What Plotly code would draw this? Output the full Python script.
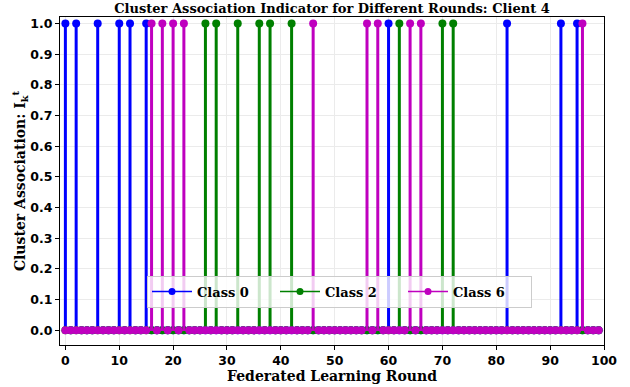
import plotly.graph_objects as go

rounds = list(range(100))
class0_rounds = [0, 2, 6, 10, 12, 15, 60, 82, 92, 95]
class2_rounds = [26, 28, 32, 36, 38, 42, 62, 70, 72]
class6_rounds = [16, 18, 20, 22, 46, 56, 58, 64, 66, 96]

series = [
    ("Class 0", class0_rounds, "#0000ff"),
    ("Class 2", class2_rounds, "#008000"),
    ("Class 6", class6_rounds, "#bf00bf"),
]

SERIF = "DejaVu Serif"
SANS = "DejaVu Sans"

fig = go.Figure()
for name, active, color in series:
    vals = [1 if r in active else 0 for r in rounds]
    sx, sy = [], []
    for r, v in zip(rounds, vals):
        if v:
            sx += [r, r, None]
            sy += [0, v, None]
    fig.add_trace(go.Scatter(x=[rounds[0], rounds[-1]], y=[0, 0], mode="lines",
                             line=dict(color=color, width=1.5), showlegend=False,
                             legendgroup=name, hoverinfo="skip"))
    fig.add_trace(go.Scatter(x=sx, y=sy, mode="lines", line=dict(color=color, width=3),
                             showlegend=False, legendgroup=name, hoverinfo="skip"))
    fig.add_trace(go.Scatter(x=rounds, y=vals, mode="markers",
                             marker=dict(color=color, size=8, line=dict(width=0)),
                             showlegend=False, legendgroup=name))
    fig.add_trace(go.Scatter(x=[None], y=[None], mode="lines+markers", name=f"<b>{name}</b>",
                             line=dict(color=color, width=1.5),
                             marker=dict(color=color, size=7), legendgroup=name))

fig.update_layout(
    width=630, height=387,
    margin=dict(l=60, r=26, t=17, b=42, autoexpand=False),
    paper_bgcolor="white", plot_bgcolor="white",
    title=dict(text="<b>Cluster Association Indicator for Different Rounds: Client 4</b>",
               x=332/630, xanchor="center", y=1-8/387, yanchor="middle",
               font=dict(family=SERIF, size=13, color="black")),
    legend=dict(orientation="h", x=(147-60)/544, xanchor="left", y=(345-291.5)/328, yanchor="middle",
                bgcolor="rgba(255,255,255,0.8)", bordercolor="#cccccc", borderwidth=1,
                font=dict(family=SERIF, size=13, color="black"),
                entrywidth=73, itemwidth=40, tracegroupgap=0),
    showlegend=True,
)
fig.update_xaxes(
    range=[-1, 100], tickmode="array", tickvals=list(range(0, 101, 10)),
    ticktext=[f"<b>{v}</b>" for v in range(0, 101, 10)],
    ticks="outside", ticklen=4, tickcolor="black", showline=True, linecolor="black",
    linewidth=1.2, mirror=True, showgrid=True, gridcolor="#ebebeb", zeroline=False,
    tickfont=dict(family=SANS, size=12.5, color="black"), automargin=False,
    title=dict(text="<b>Federated Learning Round</b>", standoff=4,
               font=dict(family=SERIF, size=14, color="black")),
)
yt = [round(i * 0.1, 1) for i in range(11)]
fig.update_yaxes(
    range=[-0.048, 1.021], tickmode="array", tickvals=yt,
    ticktext=[f"<b>{v:.1f}</b>" for v in yt],
    ticks="outside", ticklen=4, tickcolor="black", showline=True, linecolor="black",
    linewidth=1.2, mirror=True, showgrid=True, gridcolor="#ebebeb", zeroline=False,
    tickfont=dict(family=SANS, size=12.5, color="black"), automargin=False,
    title=dict(text="<b>Cluster Association: I<sub>k</sub><sup>t</sup></b>", standoff=0,
               font=dict(family=SERIF, size=14, color="black")),
)

fig.write_html("out.html", config={"displayModeBar": False},
               post_script="document.body.style.margin='0';")
